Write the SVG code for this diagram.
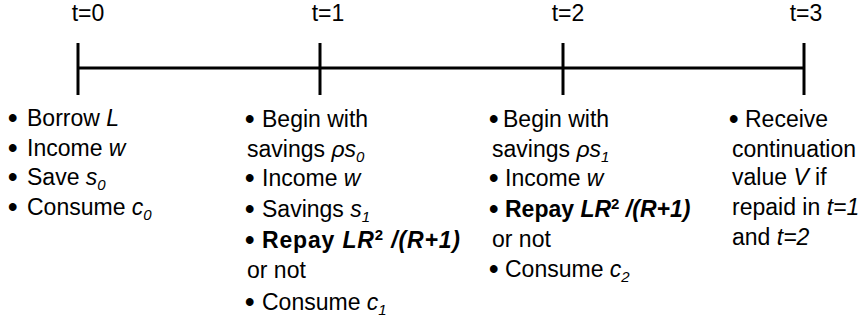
<svg xmlns="http://www.w3.org/2000/svg" width="861" height="320" viewBox="0 0 861 320">
<style>
text{font-family:"Liberation Sans",Arial,sans-serif;font-size:23px;fill:#000}
.i{font-style:italic}
.b{font-weight:bold}
.sub{font-size:15px;font-style:italic}
.bu{font-size:27px;font-weight:bold}
.ax{stroke:#000;stroke-width:3;fill:none}
</style>
<rect width="861" height="320" fill="#fff"/>
<g id="connectors">
<line class="ax" x1="78" y1="68" x2="804" y2="68"/>
<line class="ax" x1="78" y1="43" x2="78" y2="95"/>
<line class="ax" x1="320" y1="43" x2="320" y2="95"/>
<line class="ax" x1="563" y1="43" x2="563" y2="95"/>
<line class="ax" x1="804" y1="43" x2="804" y2="95"/>
</g>
<g id="t0">
<text x="88" y="21" text-anchor="middle">t=0</text>
<text class="bu" x="8" y="127">•</text><text x="27" y="126">Borrow <tspan class="i">L</tspan></text>
<text class="bu" x="8" y="157">•</text><text x="27" y="156">Income <tspan class="i">w</tspan></text>
<text class="bu" x="8" y="186">•</text><text x="27" y="185">Save <tspan class="i">s</tspan><tspan class="sub" dy="5">0</tspan></text>
<text class="bu" x="8" y="216">•</text><text x="27" y="215">Consume <tspan class="i">c</tspan><tspan class="sub" dy="5">0</tspan></text>
</g>
<g id="t1">
<text x="328" y="21" text-anchor="middle">t=1</text>
<text class="bu" x="245" y="128">•</text><text x="262" y="127">Begin with</text>
<text x="247" y="157">savings <tspan class="i">ρs</tspan><tspan class="sub" dy="5">0</tspan></text>
<text class="bu" x="245" y="187">•</text><text x="262" y="186">Income <tspan class="i">w</tspan></text>
<text class="bu" x="245" y="218">•</text><text x="262" y="217">Savings <tspan class="i">s</tspan><tspan class="sub" dy="5">1</tspan></text>
<text class="bu" x="245" y="249">•</text><text x="262" y="248" class="b" textLength="198" lengthAdjust="spacing">Repay <tspan class="i">LR</tspan><tspan font-size="15" dy="-8">2</tspan><tspan class="i" dy="8"> /(R+1)</tspan></text>
<text x="247" y="278">or not</text>
<text class="bu" x="245" y="311">•</text><text x="262" y="310">Consume <tspan class="i">c</tspan><tspan class="sub" dy="5">1</tspan></text>
</g>
<g id="t2">
<text x="568" y="21" text-anchor="middle">t=2</text>
<text class="bu" x="489" y="128">•</text><text x="503" y="127">Begin with</text>
<text x="492" y="157">savings <tspan class="i">ρs</tspan><tspan class="sub" dy="5">1</tspan></text>
<text class="bu" x="489" y="187">•</text><text x="505" y="186">Income <tspan class="i">w</tspan></text>
<text class="bu" x="489" y="218">•</text><text x="505" y="217" class="b">Repay <tspan class="i">LR</tspan><tspan font-size="15" dy="-8">2</tspan><tspan class="i" dy="8"> /(R+1)</tspan></text>
<text x="492" y="247">or not</text>
<text class="bu" x="489" y="278">•</text><text x="505" y="277">Consume <tspan class="i">c</tspan><tspan class="sub" dy="5">2</tspan></text>
</g>
<g id="t3">
<text x="806" y="21" text-anchor="middle">t=3</text>
<text class="bu" x="729" y="128">•</text><text x="745" y="127">Receive</text>
<text x="732" y="157">continuation</text>
<text x="732" y="185">value <tspan class="i">V</tspan> if</text>
<text x="732" y="215">repaid in <tspan class="i">t=1</tspan></text>
<text x="732" y="245">and <tspan class="i">t=2</tspan></text>
</g>
</svg>
